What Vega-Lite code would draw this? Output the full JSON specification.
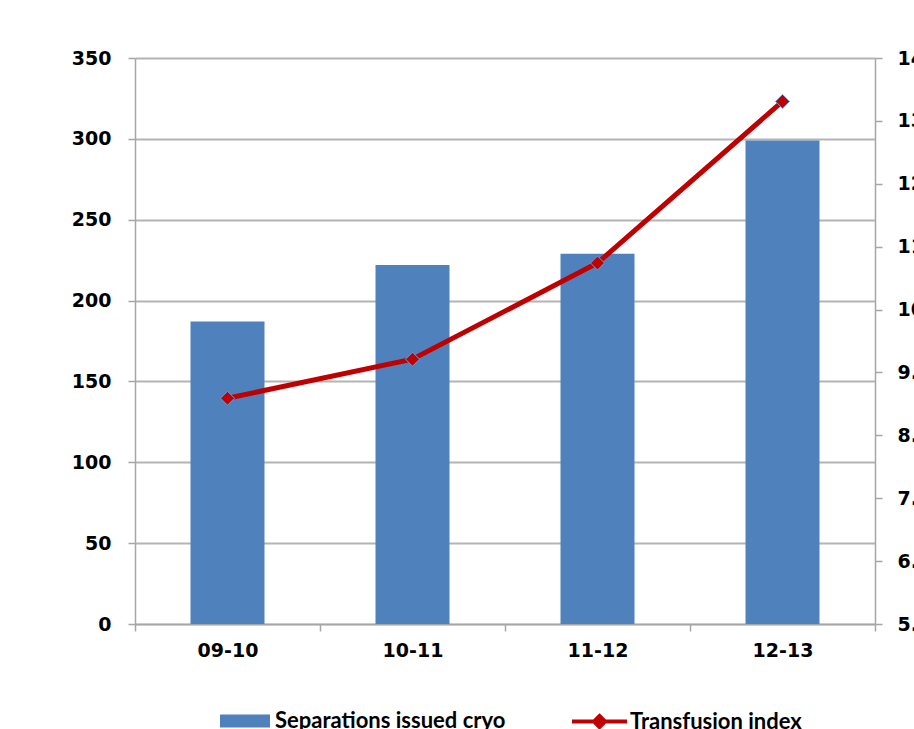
{
  "$schema": "https://vega.github.io/schema/vega-lite/v6.json",
  "width": 740,
  "height": 566,
  "autosize": {"type": "none"},
  "padding": {"left": 135, "top": 58, "right": 39, "bottom": 105},
  "background": "white",
  "data": {
    "values": [
      {"year": "09-10", "cryo": 187, "index": 8.59},
      {"year": "10-11", "cryo": 222, "index": 9.21},
      {"year": "11-12", "cryo": 229, "index": 10.74},
      {"year": "12-13", "cryo": 299, "index": 13.31}
    ]
  },
  "config": {
    "view": {"stroke": null},
    "axis": {
      "labelFont": "DejaVu Sans",
      "labelFontWeight": "bold",
      "labelFontSize": 19,
      "labelColor": "#000000",
      "domainColor": "#a6a6a6",
      "domainWidth": 1.5,
      "tickColor": "#a6a6a6",
      "tickWidth": 1.5,
      "tickSize": 7,
      "gridColor": "#b4b4b4",
      "gridWidth": 2,
      "title": null
    },
    "legend": {
      "labelFont": "Lato",
      "labelFontWeight": "bold",
      "labelFontSize": 22,
      "labelColor": "#000000",
      "labelLimit": 500,
      "padding": 0,
      "offset": 0,
      "title": null
    }
  },
  "encoding": {
    "x": {
      "field": "year",
      "type": "nominal",
      "sort": null,
      "scale": {"paddingInner": 0, "paddingOuter": 0},
      "axis": {"labelAngle": 0, "tickBand": "extent", "labelPadding": 10, "grid": false}
    }
  },
  "layer": [
    {
      "mark": {"type": "bar", "width": {"band": 0.4}},
      "encoding": {
        "y": {
          "field": "cryo",
          "type": "quantitative",
          "scale": {"domain": [0, 350], "nice": false},
          "axis": {"orient": "left", "values": [0, 50, 100, 150, 200, 250, 300, 350], "grid": true, "labelPadding": 17}
        },
        "fill": {
          "datum": "Separations issued cryo",
          "scale": {"domain": ["Separations issued cryo"], "range": ["#4f81bd"]},
          "legend": {
            "orient": "none",
            "legendX": 85,
            "legendY": 638,
            "symbolType": "M-1,-0.26H1V0.26H-1Z",
            "symbolSize": 2500,
            "symbolStrokeWidth": 0,
            "labelOffset": 5
          }
        }
      }
    },
    {
      "mark": {"type": "line", "strokeWidth": 5},
      "encoding": {
        "y": {
          "field": "index",
          "type": "quantitative",
          "scale": {"domain": [5, 14], "nice": false, "zero": false},
          "axis": {"orient": "right", "values": [5, 6, 7, 8, 9, 10, 11, 12, 13, 14], "format": ".1f", "grid": false, "labelPadding": 15}
        },
        "stroke": {
          "datum": "Transfusion index",
          "scale": {"domain": ["Transfusion index"], "range": ["#c00000"]},
          "legend": {
            "orient": "none",
            "legendX": 435,
            "legendY": 634,
            "symbolType": "M-1,0H1M0,-0.2L0.2,0L0,0.2L-0.2,0Z",
            "symbolSize": 3025,
            "symbolStrokeWidth": 4,
            "symbolFillColor": "#c00000",
            "labelOffset": 1
          }
        }
      }
    },
    {
      "mark": {"type": "point", "shape": "diamond", "size": 196, "filled": true, "fill": "#c00000", "stroke": "#6f9fd8", "strokeWidth": 1, "opacity": 1},
      "encoding": {
        "y": {"field": "index", "type": "quantitative", "scale": {"domain": [5, 14], "nice": false, "zero": false}, "axis": null}
      }
    }
  ],
  "resolve": {"scale": {"y": "independent", "fill": "independent", "stroke": "independent"}}
}
